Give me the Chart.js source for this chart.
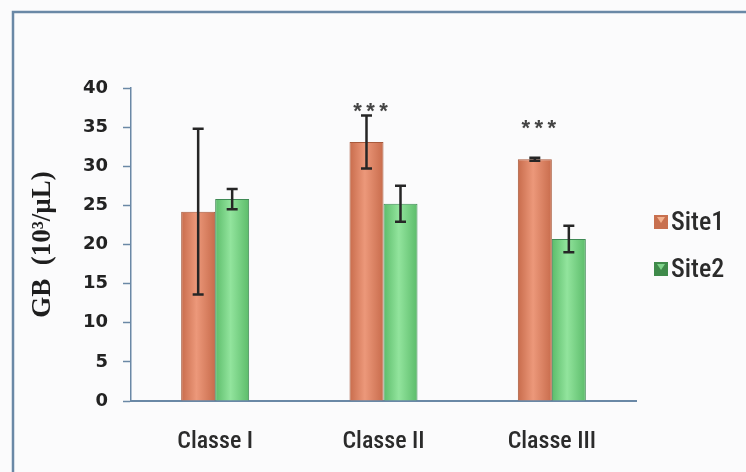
<!DOCTYPE html>
<html>
<head>
<meta charset="utf-8">
<script src="https://cdn.jsdelivr.net/npm/chart.js@4/dist/chart.umd.min.js"></script>
<style>
  html, body { margin: 0; padding: 0; background: #fbfbfc; }
  #wrap { width: 746px; height: 472px; position: relative; }
</style>
</head>
<body>
<div id="wrap"><canvas id="c" width="746" height="472"></canvas></div>
<script>
// Leukocyte counts (GB, 10^3/µL) by class and sampling site
const categories = ['Classe I', 'Classe II', 'Classe III'];
const site1 = [24.2, 33.1, 30.9];
const site2 = [25.8, 25.2, 20.7];
const site1Err = [10.6, 3.4, 0.2];
const site2Err = [1.3, 2.3, 1.7];
// significance marks above Site1 and the value at which they sit
const signif = ['', '***', '***'];
const signifLevel = [null, 38, 35.8];
const yTicks = [0, 5, 10, 15, 20, 25, 30, 35, 40];

const AXIS_COLOR = '#6a88a6';
const TEXT_COLOR = '#2b2b2b';
const NARROW = '"Liberation Sans Narrow", "Roboto Condensed", Roboto, sans-serif';
const CAT_PCT = 0.404;

// horizontal shading across each bar for a rounded look
function barShade(edge, mid) {
  return function (ctx) {
    const chart = ctx.chart;
    const xs = chart.scales && chart.scales.x;
    if (!xs || !chart.chartArea || ctx.dataIndex === undefined) return mid;
    const catW = xs.width / chart.data.labels.length;
    const bw = catW * CAT_PCT / chart.data.datasets.length;
    const cx = xs.getPixelForValue(ctx.dataIndex) + (ctx.datasetIndex - 0.5) * bw;
    if (!isFinite(cx) || !isFinite(bw) || bw <= 0) return mid;
    const g = chart.ctx.createLinearGradient(cx - bw / 2, 0, cx + bw / 2, 0);
    g.addColorStop(0, edge);
    g.addColorStop(0.45, mid);
    g.addColorStop(1, edge);
    return g;
  };
}

const framePlugin = {
  id: 'frame',
  beforeDraw(chart) {
    const c = chart.ctx;
    c.save();
    c.fillStyle = '#fbfbfc';
    c.fillRect(0, 0, chart.width, chart.height);
    c.strokeStyle = AXIS_COLOR;
    c.lineWidth = 2.5;
    c.beginPath();
    c.moveTo(13, chart.height);
    c.lineTo(13, 12);
    c.lineTo(chart.width, 12);
    c.stroke();
    c.restore();
  }
};

const errorBarPlugin = {
  id: 'errorBars',
  afterDatasetsDraw(chart) {
    const c = chart.ctx;
    const y = chart.scales.y;
    const errs = [site1Err, site2Err];
    c.save();
    c.strokeStyle = '#262626';
    c.lineWidth = 2.5;
    errs.forEach((err, di) => {
      const meta = chart.getDatasetMeta(di);
      meta.data.forEach((bar, i) => {
        const v = chart.data.datasets[di].data[i];
        const top = y.getPixelForValue(v + err[i]);
        const bot = y.getPixelForValue(v - err[i]);
        const x = bar.x;
        c.beginPath();
        c.moveTo(x, top); c.lineTo(x, bot);
        c.moveTo(x - 5.5, top); c.lineTo(x + 5.5, top);
        c.moveTo(x - 5.5, bot); c.lineTo(x + 5.5, bot);
        c.stroke();
      });
    });
    // significance stars
    const meta1 = chart.getDatasetMeta(0);
    c.fillStyle = '#444';
    c.font = 'bold 22px "Liberation Sans", sans-serif';
    c.textAlign = 'center';
    c.textBaseline = 'middle';
    signif.forEach((s, i) => {
      if (!s) return;
      const cx = meta1.data[i].x + 4;
      const yy = y.getPixelForValue(signifLevel[i]) + 8;
      const n = s.length;
      for (let k = 0; k < n; k++) {
        c.fillText(s[k], cx + (k - (n - 1) / 2) * 13, yy);
      }
    });
    c.restore();
  }
};

const legendPlugin = {
  id: 'sideLegend',
  afterDraw(chart) {
    const c = chart.ctx;
    const items = [
      { label: chart.data.datasets[0].label, fill: '#c8704f', mark: '#f3b18e', y: 222 },
      { label: chart.data.datasets[1].label, fill: '#3f8a4a', mark: '#7fd38a', y: 269 }
    ];
    c.save();
    items.forEach(it => {
      c.fillStyle = it.fill;
      c.fillRect(654, it.y - 7, 14, 14);
      c.fillStyle = it.mark;
      c.beginPath();
      c.moveTo(657, it.y - 5); c.lineTo(665, it.y - 5); c.lineTo(661, it.y + 1);
      c.closePath(); c.fill();
      c.fillStyle = TEXT_COLOR;
      c.font = '500 26px ' + NARROW;
      c.textAlign = 'left';
      c.textBaseline = 'middle';
      c.fillText(it.label, 671, it.y + 1);
    });
    c.restore();
  }
};

new Chart(document.getElementById('c'), {
  type: 'bar',
  data: {
    labels: categories,
    datasets: [
      {
        label: 'Site1',
        data: site1,
        backgroundColor: barShade('#c86c4c', '#ec987a'),
        borderColor: '#a95a3c',
        borderWidth: 1,
        categoryPercentage: CAT_PCT,
        barPercentage: 1.0
      },
      {
        label: 'Site2',
        data: site2,
        backgroundColor: barShade('#5cbc6a', '#92e49d'),
        borderColor: '#3f8a55',
        borderWidth: 1,
        categoryPercentage: CAT_PCT,
        barPercentage: 1.0
      }
    ]
  },
  options: {
    responsive: false,
    animation: false,
    events: [],
    layout: { padding: { left: 0, top: 88, right: 110, bottom: 0 } },
    plugins: {
      legend: { display: false },
      tooltip: { enabled: false }
    },
    scales: {
      x: {
        grid: { display: false, drawTicks: false },
        border: { display: true, color: AXIS_COLOR, width: 2 },
        ticks: {
          color: TEXT_COLOR,
          padding: 27,
          font: { family: NARROW, size: 24, weight: '500' }
        },
        afterFit(scale) { scale.height = 71; }
      },
      y: {
        min: 0,
        max: 40,
        afterBuildTicks(scale) { scale.ticks = yTicks.map(v => ({ value: v })); },
        grid: {
          drawOnChartArea: false,
          drawTicks: true,
          tickLength: 8,
          tickColor: AXIS_COLOR,
          tickWidth: 1.5
        },
        border: { display: true, color: AXIS_COLOR, width: 1.5 },
        ticks: {
          color: '#222',
          padding: 15,
          font: { family: '"DejaVu Sans", sans-serif', size: 18, weight: 'bold' }
        },
        title: {
          display: true,
          text: 'GB  (10³/µL)',
          color: '#1e1e1e',
          padding: { top: 27, bottom: 0 },
          font: { family: '"Liberation Serif", "Times New Roman", serif', size: 27, weight: 'bold' }
        },
        afterFit(scale) { scale.width = 131; }
      }
    }
  },
  plugins: [framePlugin, errorBarPlugin, legendPlugin]
});
</script>
</body>
</html>
